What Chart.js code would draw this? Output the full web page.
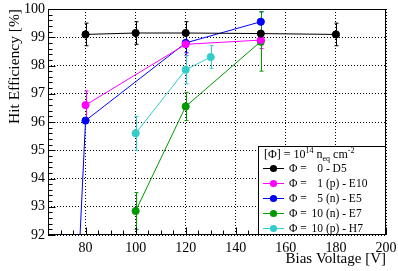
<!DOCTYPE html>
<html>
<head>
<meta charset="utf-8">
<script src="https://cdn.jsdelivr.net/npm/chart.js@4.4.0/dist/chart.umd.min.js"></script>
<style>
  html, body { margin: 0; padding: 0; background: #fff; }
  #wrap { width: 398px; height: 271px; }
</style>
</head>
<body>
<div id="wrap"><canvas id="c"></canvas></div>
<script>
// bias voltages [V] and hit efficiencies [%] per sensor
var d5X = [80, 100, 120, 150, 180];
var d5Y = [99.1, 99.15, 99.15, 99.13, 99.1];
var d5Err = [0.4, 0.4, 0.4, 0.4, 0.4];

var e10X = [80, 120, 150];
var e10Y = [96.6, 98.75, 98.9];
var e10Err = [0.5, 0.4, 0.3];

var e5X = [70, 80, 120, 150];
var e5Y = [77.6, 96.05, 98.8, 99.55];
var e5Err = [0, 0, 0.35, 0.35];

var e7X = [100, 120, 150];
var e7Y = [92.85, 96.55, 98.85];
var e7Err = [0.65, 0.5, 1.05];

var h7X = [100, 120, 130];
var h7Y = [95.6, 97.85, 98.3];
var h7Err = [0.6, 0.5, 0.4];

var xTicks = [80, 100, 120, 140, 160, 180, 200];

var legendNums = ['0', '1', '5', '10', '10'];
var legendRest = [' - D5', ' (p) - E10', ' (n) - E5', ' (n) - E7', ' (p) - H7'];

var FONT = '"Liberation Serif", "DejaVu Serif", serif';

function pts(xs, ys) {
    return xs.map(function (x, i) { return {x: x, y: ys[i]}; });
}

function series(label, xs, ys, errs, color) {
    return {
        label: label,
        data: pts(xs, ys),
        errors: errs,
        borderColor: color,
        backgroundColor: color,
        pointBackgroundColor: color,
        pointBorderColor: color,
        pointRadius: 3.6,
        pointHoverRadius: 3.6,
        borderWidth: 1,
        showLine: true,
        tension: 0
    };
}

var datasets = [
    series('D5', d5X, d5Y, d5Err, '#000000'),
    series('E10', e10X, e10Y, e10Err, '#ff00ff'),
    series('E5', e5X, e5Y, e5Err, '#0000ff'),
    series('E7', e7X, e7Y, e7Err, '#009900'),
    series('H7', h7X, h7Y, h7Err, '#33cccc')
];

// error bars, drawn under the markers
var errorBars = {
    id: 'errorBars',
    beforeDatasetsDraw: function (chart) {
        var ctx = chart.ctx, a = chart.chartArea;
        var xs = chart.scales.x, ys = chart.scales.y;
        ctx.save();
        ctx.beginPath();
        ctx.rect(a.left, a.top, a.right - a.left, a.bottom - a.top);
        ctx.clip();
        chart.data.datasets.forEach(function (ds) {
            ctx.strokeStyle = ds.borderColor;
            ctx.lineWidth = 1;
            ds.data.forEach(function (p, i) {
                var e = ds.errors[i];
                if (!e) return;
                var px = Math.round(xs.getPixelForValue(p.x)) + 0.5;
                var y1 = ys.getPixelForValue(p.y + e);
                var y2 = ys.getPixelForValue(p.y - e);
                ctx.beginPath();
                ctx.moveTo(px, y1); ctx.lineTo(px, y2);
                ctx.moveTo(px - 2, y1); ctx.lineTo(px + 2, y1);
                ctx.moveTo(px - 2, y2); ctx.lineTo(px + 2, y2);
                ctx.stroke();
            });
        });
        ctx.restore();
    }
};

// frame, inner ticks and legend box
var frameAndLegend = {
    id: 'frameAndLegend',
    afterDraw: function (chart) {
        var ctx = chart.ctx, a = chart.chartArea;
        var xs = chart.scales.x, ys = chart.scales.y;
        ctx.save();
        ctx.strokeStyle = '#000';
        ctx.lineWidth = 1;
        var L = Math.round(a.left) + 0.5, R = Math.round(a.right) - 0.5;
        var T = Math.round(a.top) + 0.5, B = Math.round(a.bottom) - 0.5;
        ctx.strokeRect(L, T, R - L, B - T);

        ctx.beginPath();
        var v, px, len;
        for (v = 65; v <= 200; v += 5) {
            px = Math.round(xs.getPixelForValue(v)) + 0.5;
            len = (v % 20 === 0) ? 7 : 4;
            ctx.moveTo(px, B); ctx.lineTo(px, B - len);
        }
        for (v = 920; v <= 1000; v += 2) {
            px = Math.round(ys.getPixelForValue(v / 10)) + 0.5;
            len = (v % 10 === 0) ? 7 : 4;
            ctx.moveTo(L, px); ctx.lineTo(L + len, px);
        }
        ctx.stroke();

        // legend
        var lx = 258.5, ly = 146.5, lw = R - lx, lh = B - ly;
        ctx.fillStyle = '#fff';
        ctx.fillRect(lx, ly, lw, lh);
        ctx.strokeRect(lx, ly, lw, lh);

        ctx.fillStyle = '#000';
        ctx.textBaseline = 'alphabetic';
        ctx.textAlign = 'left';
        var x = 264, y = 158;
        function piece(t, size, dy) {
            ctx.font = size + 'px ' + FONT;
            ctx.fillText(t, x, y + dy);
            x += ctx.measureText(t).width;
        }
        piece('[\u03a6] = 10', 12, 0);
        piece('14', 8, -5);
        piece(' n', 12, 0);
        piece('eq', 8, 3);
        piece(' cm', 12, 0);
        piece('-2', 8, -5);

        chart.data.datasets.forEach(function (ds, i) {
            var ry = 168 + i * 15;
            ctx.strokeStyle = ds.borderColor;
            ctx.fillStyle = ds.borderColor;
            ctx.beginPath();
            ctx.moveTo(263, ry + 0.5); ctx.lineTo(284, ry + 0.5);
            ctx.stroke();
            ctx.beginPath();
            ctx.arc(273.5, ry + 0.5, 3.6, 0, Math.PI * 2);
            ctx.fill();
            ctx.fillStyle = '#000';
            ctx.font = '11.5px ' + FONT;
            ctx.textAlign = 'left';
            ctx.fillText('\u03a6 =', 289, ry + 4);
            ctx.textAlign = 'right';
            ctx.fillText(legendNums[i], 323, ry + 4);
            ctx.textAlign = 'left';
            ctx.fillText(legendRest[i], 323, ry + 4);
        });
        ctx.restore();
    }
};

new Chart(document.getElementById('c'), {
    type: 'scatter',
    data: { datasets: datasets },
    options: {
        responsive: true,
        maintainAspectRatio: false,
        animation: false,
        layout: { padding: { left: 0, right: 12, top: 9, bottom: 0 } },
        plugins: { legend: { display: false }, tooltip: { enabled: false } },
        scales: {
            x: {
                type: 'linear',
                min: 65, max: 200,
                afterBuildTicks: function (s) {
                    s.ticks = xTicks.map(function (v) { return {value: v}; });
                },
                afterFit: function (s) { s.height = 36; s.paddingLeft = 0; s.paddingRight = 0; },
                grid: { color: '#000', lineWidth: 1, drawTicks: false },
                border: { display: false, dash: [1, 2] },
                ticks: { color: '#000', padding: 5, maxRotation: 0,
                         font: { family: FONT, size: 14 } },
                title: { display: true, text: 'Bias Voltage [V]', align: 'end',
                         color: '#000', padding: { top: 0, bottom: 3 },
                         font: { family: FONT, size: 15 } }
            },
            y: {
                min: 92, max: 100,
                ticks: { stepSize: 1, color: '#000', padding: 3,
                         font: { family: FONT, size: 14 } },
                afterFit: function (s) { s.width = 48; s.paddingTop = 0; s.paddingBottom = 0; },
                grid: { color: '#000', lineWidth: 1, drawTicks: false },
                border: { display: false, dash: [1, 2] },
                title: { display: true, text: 'Hit Efficiency [%]', align: 'end',
                         color: '#000', padding: { top: 6, bottom: 0 },
                         font: { family: FONT, size: 15.5 } }
            }
        }
    },
    plugins: [errorBars, frameAndLegend]
});
</script>
</body>
</html>
